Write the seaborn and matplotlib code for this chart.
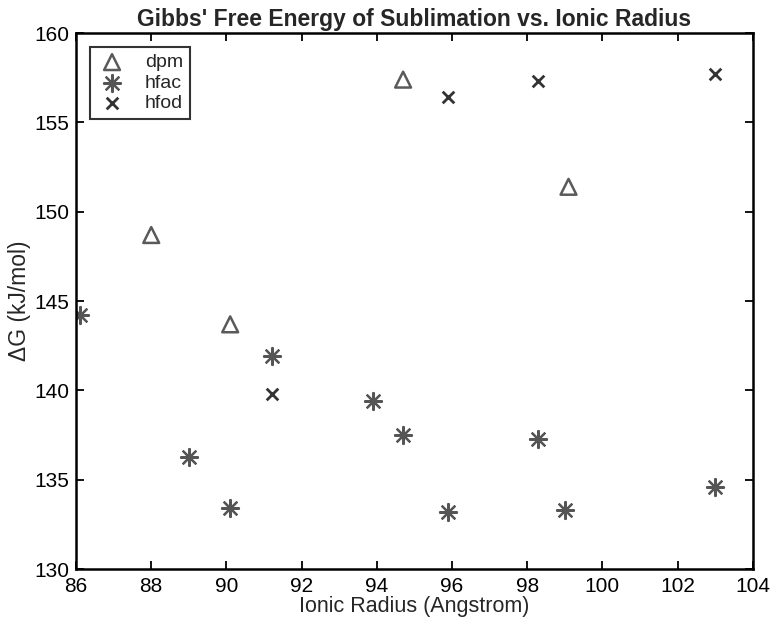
import matplotlib
matplotlib.use("Agg")
import matplotlib.pyplot as plt
import seaborn as sns

# Data
dpm_radius = [88.0, 90.1, 94.7, 99.1]
dpm_dg = [148.7, 143.7, 157.4, 151.4]

hfac_radius = [86.1, 89.0, 90.1, 91.2, 93.9, 94.7, 95.9, 98.3, 99.0, 103.0]
hfac_dg = [144.2, 136.3, 133.4, 141.9, 139.4, 137.5, 133.2, 137.3, 133.3, 134.6]

hfod_radius = [91.2, 95.9, 98.3, 103.0]
hfod_dg = [139.8, 156.4, 157.3, 157.7]

x_ticks = [86, 88, 90, 92, 94, 96, 98, 100, 102, 104]
y_ticks = [130, 135, 140, 145, 150, 155, 160]

# Style
sns.set_style("ticks")
plt.rcParams["font.family"] = ["Liberation Sans", "DejaVu Sans"]
plt.rcParams["xtick.direction"] = "in"
plt.rcParams["ytick.direction"] = "in"

fig = plt.figure(figsize=(7.76, 6.26), dpi=100)
ax = fig.add_axes([0.098, 0.091, 0.872, 0.856])

# Plot each series
sns.scatterplot(x=dpm_radius, y=dpm_dg, ax=ax, marker="^", s=130,
                facecolor="none", edgecolor="#5a5a5a", linewidth=1.8, label="dpm")
sns.scatterplot(x=hfac_radius, y=hfac_dg, ax=ax, marker=(8, 2, 0), s=150,
                color="#555555", linewidth=1.6, label="hfac")
sns.scatterplot(x=hfod_radius, y=hfod_dg, ax=ax, marker="x", s=70,
                color="#333333", linewidth=2.0, label="hfod")

ax.set_xlim(86, 104)
ax.set_ylim(130, 160)
ax.set_xticks(x_ticks)
ax.set_yticks(y_ticks)
ax.tick_params(axis="both", labelsize=15, length=6, width=1.3,
               top=True, right=True, colors="black")
ax.tick_params(axis="x", pad=6)
ax.tick_params(axis="y", pad=5)
for spine in ax.spines.values():
    spine.set_visible(True)
    spine.set_linewidth(1.8)
    spine.set_color("black")

ax.set_title("Gibbs' Free Energy of Sublimation vs. Ionic Radius",
             fontsize=16.5, fontweight="bold", pad=5)
ax.set_xlabel("Ionic Radius (Angstrom)", fontsize=15.5, labelpad=0)
ax.set_ylabel("ΔG (kJ/mol)", fontsize=16.5, labelpad=2)

leg = ax.legend(loc="upper left", fontsize=14, frameon=True, fancybox=False,
                edgecolor="black", borderaxespad=0.7, handletextpad=0.9,
                handlelength=1.6, labelspacing=0.15, borderpad=0.35)
leg.get_frame().set_linewidth(1.5)

fig.savefig("out.png", dpi=100)
